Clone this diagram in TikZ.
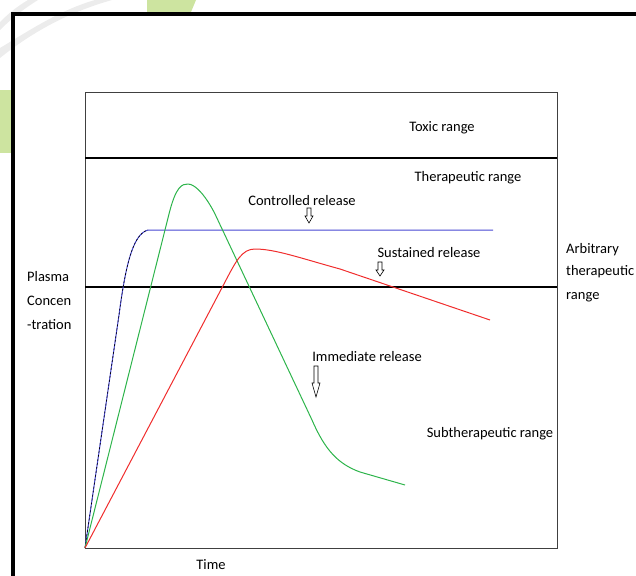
\documentclass[tikz,border=0pt]{standalone}
\usepackage{fontspec}
\setmainfont{Carlito}
\definecolor{cblue}{RGB}{70,70,210}
\definecolor{cgreen}{RGB}{45,180,75}
\definecolor{cred}{RGB}{240,45,45}
\definecolor{decogreen}{RGB}{205,228,160}
\definecolor{decogray}{RGB}{236,236,236}
\newcommand\hollowdown[5]{%
  \draw[harrow] (#1-2,#2) -- (#1+2,#2) -- (#1+2,#3) -- (#1+4,#3) -- (#1,#4) -- (#1-4,#3) -- (#1-2,#3) -- cycle;}
\begin{document}
\begin{tikzpicture}[x=1pt,y=-1pt,
  lbl/.style={inner sep=0pt, font=\fontsize{14.5}{17}\selectfont},
  harrow/.style={draw=black, line width=0.6pt, fill=white},
  curve/.style={line width=1pt, line join=round}]
\useasboundingbox (0,0) rectangle (636,575);
% background decoration of slide
\fill[decogray] (0,48) .. controls (30,30) and (60,10) .. (95,0) -- (112,0) .. controls (70,12) and (35,30) .. (0,58) -- cycle;
\fill[decogray] (0,22) .. controls (10,12) and (18,6) .. (28,0) -- (38,0) .. controls (25,8) and (12,18) .. (0,30) -- cycle;
\fill[decogreen] (147,0) -- (196,0) -- (191,12) -- (147,12) -- cycle;
\fill[decogreen] (0,90) -- (11,90) -- (11,153) -- (0,153) -- cycle;
% slide frame
\draw[line width=4pt] (13,580) -- (13,14) -- (640,14);
% chart box
\node[draw=black!75, line width=1pt, minimum width=472pt, minimum height=456pt, inner sep=0pt, anchor=north west] (box) at (85,92) {};
\coordinate (o) at (85,548);
\draw[line width=1.2pt] (85,158) coordinate (t1) -- (557,158) coordinate (t2);
\draw[line width=1.2pt] (85,287) coordinate (a1) -- (557,287) coordinate (a2);
% curves
\draw[curve, cblue] (o) -- (119,315) .. controls (125,270) and (132,234) .. (148,230) -- (493,230);
\draw[line width=0.6pt, black, dash pattern=on 2pt off 2pt] (o) -- (119,315) .. controls (125,270) and (132,234) .. (148,230);
\draw[curve, cgreen] (o) -- (169,214) .. controls (176,186) and (182,184) .. (188,184)
   .. controls (196,184) and (207,198) .. (215,214) -- (312,420)
   .. controls (325,450) and (338,464) .. (360,472) -- (405,485);
\draw[curve, cred] (o) -- (225,282) .. controls (236,261) and (242,249) .. (255,249)
   .. controls (275,249) and (300,258) .. (340,269) -- (490,320);
% labels
\node[lbl] (toxic) at (442,128) {Toxic range};
\node[lbl] (ther) at (468,178) {Therapeutic range};
\node[lbl] (ctrl) at (302,201) {Controlled release};
\node[lbl] (sust) at (429,253) {Sustained release};
\node[lbl] (imm) at (367,357) {Immediate release};
\node[lbl] (sub) at (490,434) {Subtherapeutic range};
\node[lbl] (time) at (211,565) {Time};
\node[lbl, anchor=west] (arb1) at (566,250) {Arbitrary};
\node[lbl, anchor=west] (arb2) at (566,272) {therapeutic};
\node[lbl, anchor=west] (arb3) at (566,297) {range};
\node[lbl, anchor=west] (pl1) at (27,277) {Plasma};
\node[lbl, anchor=west] (pl2) at (27,301) {Concen};
\node[lbl, anchor=west] (pl3) at (27,325) {-tration};
% hollow arrows
\hollowdown{309}{208}{216}{223}{}
\hollowdown{380}{262}{270}{276}{}
\hollowdown{316}{366}{383}{397}{}
\end{tikzpicture}
\end{document}
